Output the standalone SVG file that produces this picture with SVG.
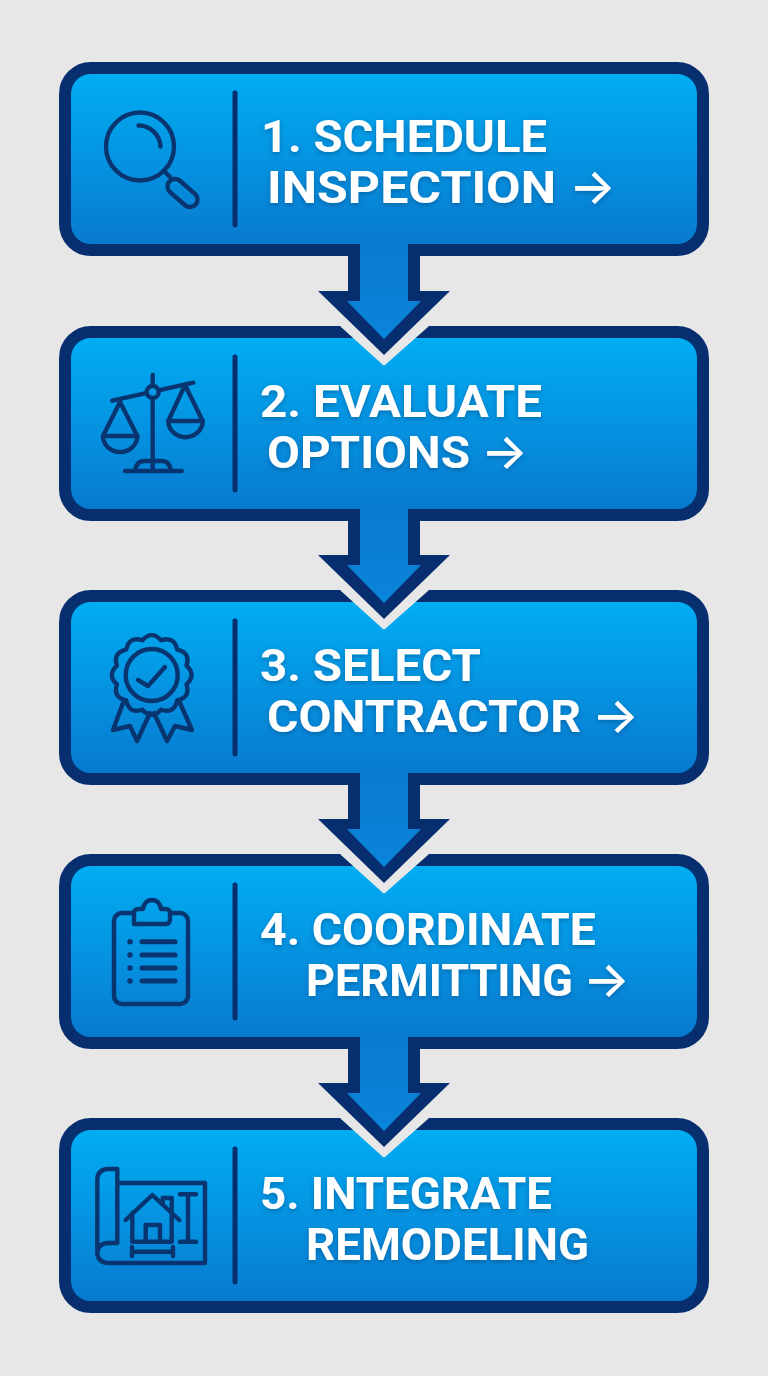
<svg xmlns="http://www.w3.org/2000/svg" width="768" height="1376" viewBox="0 0 768 1376">
<style>
.box{fill:url(#g);stroke:#072f6f;stroke-width:12}
.div{stroke:#072f6f;stroke-width:5;stroke-linecap:round;fill:none}
.ic{fill:none;stroke:#08356f;stroke-width:4.400;stroke-linecap:round;stroke-linejoin:round}
.t{font-family:Roboto,"Liberation Sans",sans-serif;font-weight:700;font-size:44px;fill:#fff;filter:url(#s)}
.a{font-family:Inter,"DejaVu Sans",sans-serif;font-weight:500;font-size:50px;fill:#fff;filter:url(#s)}
</style>
<defs>
<linearGradient id="g" x1="0" y1="0" x2="0" y2="1"><stop offset="0" stop-color="#00aef3"/><stop offset=".5" stop-color="#0594e2"/><stop offset="1" stop-color="#0878cd"/></linearGradient>
<linearGradient id="ag" x1="0" y1="0" x2="0" y2="1"><stop offset="0" stop-color="#0a7bd0"/><stop offset="1" stop-color="#0a84da"/></linearGradient>
<filter id="s" x="-5%" y="-20%" width="110%" height="140%"><feDropShadow dx="0" dy="2" stdDeviation="2.500" flood-color="#04386f" flood-opacity=".45"/></filter>
<g id="arrow">
<path d="M342 326 L384 364 L427 326Z" fill="#e7e7e7" stroke="#e7e7e7" stroke-width="3" stroke-linejoin="round"/>
<path d="M348 256H420V291H450L384 355L318 291H348Z" fill="#072f6f"/>
<path d="M360 244H408V301H421L384 339L347 301H360Z" fill="url(#ag)"/>
</g>
</defs>
<rect width="768" height="1376" fill="#e7e7e7"/>

<g id="node1"><rect class="box" x="65" y="68" width="638" height="182" rx="26"/>
<line class="div" x1="235" y1="93" x2="235" y2="225"/>
<g class="ic"><circle cx="140" cy="146.500" r="34"/><path d="M138.500 125.500A22 22 0 0 1 160.500 146.500"/><path d="M164 171L170 177"/><rect x="165" y="185.500" width="35" height="15" rx="7.500" transform="rotate(41 182.500 193)"/></g>
<text class="t" x="261" y="152" textLength="286" lengthAdjust="spacingAndGlyphs">1. SCHEDULE</text><text class="t" x="267" y="203" textLength="289" lengthAdjust="spacingAndGlyphs">INSPECTION</text><text class="a" x="569" y="204" textLength="47" lengthAdjust="spacingAndGlyphs">→</text></g>

<g id="node2"><rect class="box" x="65" y="332" width="638" height="183" rx="26"/>
<line class="div" x1="235" y1="357" x2="235" y2="490"/>
<g class="ic"><path d="M152.700 375V470M112.300 400.700L193.300 382.700"/><circle cx="152.700" cy="392" r="6" fill="#0a99e4"/><path d="M103 436L120 402L137.300 436M168.300 421L185 385L202.700 421"/><path d="M103 436H137.300A17 16 0 0 1 103 436ZM168.300 421H202.700A17 16 0 0 1 168.300 421Z"/><path d="M125 471H181.700M135 471C136 464 139 461 144 461H162C167 461 170 464 171 471"/></g>
<text class="t" x="260" y="417" textLength="282" lengthAdjust="spacingAndGlyphs">2. EVALUATE</text><text class="t" x="267" y="468" textLength="203" lengthAdjust="spacingAndGlyphs">OPTIONS</text><text class="a" x="481" y="469" textLength="47" lengthAdjust="spacingAndGlyphs">→</text></g>

<g id="node3"><rect class="box" x="65" y="596" width="638" height="183" rx="26"/>
<line class="div" x1="235" y1="621" x2="235" y2="754"/>
<g class="ic"><path transform="translate(151.700 675) rotate(15)" d="M36 0Q43.470 11.650 31.180 18Q31.820 31.820 18 31.180Q11.650 43.470 0 36Q-11.650 43.470 -18 31.180Q-31.820 31.820 -31.180 18Q-43.470 11.650 -36 0Q-43.470 -11.650 -31.180 -18Q-31.820 -31.820 -18 -31.180Q-11.650 -43.470 0 -36Q11.650 -43.470 18 -31.180Q31.820 -31.820 31.180 -18Q43.470 -11.650 36 0Z"/><circle cx="151.700" cy="675" r="26"/><path d="M138 680L148 686L165 667"/><path d="M123 703L113 730L130 726L137 741L150 713M180 703L192 730L175 726L167 741L154 713"/></g>
<text class="t" x="260" y="681" textLength="221" lengthAdjust="spacingAndGlyphs">3. SELECT</text><text class="t" x="267" y="732" textLength="314" lengthAdjust="spacingAndGlyphs">CONTRACTOR</text><text class="a" x="592" y="733" textLength="47" lengthAdjust="spacingAndGlyphs">→</text></g>

<g id="node4"><rect class="box" x="65" y="860" width="638" height="183" rx="26"/>
<line class="div" x1="235" y1="885" x2="235" y2="1018"/>
<g class="ic"><path d="M134 913H122A8 8 0 0 0 114 921V996A8 8 0 0 0 122 1004H180A8 8 0 0 0 188 996V921A8 8 0 0 0 180 913H170"/><path d="M134 924V913A4 4 0 0 1 138 909H143C144 902 148 900 152 900C156 900 160 902 161 909H166A4 4 0 0 1 170 913V920A4 4 0 0 1 166 924Z"/><path stroke-width="5" d="M142 941.700H175M142 955H175M142 968H175M142 981H175"/><path stroke-width="5.500" d="M130 941.700h.01M130 955h.01M130 968h.01M130 981h.01"/></g>
<text class="t" x="260" y="945" textLength="336" lengthAdjust="spacingAndGlyphs">4. COORDINATE</text><text class="t" x="306" y="996" textLength="267" lengthAdjust="spacingAndGlyphs">PERMITTING</text><text class="a" x="583" y="997" textLength="47" lengthAdjust="spacingAndGlyphs">→</text></g>

<g id="node5"><rect class="box" x="65" y="1124" width="638" height="183" rx="26"/>
<line class="div" x1="235" y1="1149" x2="235" y2="1282"/>
<g class="ic"><path d="M117.300 1183H205V1263H108C101 1263 97.300 1258 97.300 1253V1179C97.300 1173 102 1169 108 1169H117.300V1243H108C102 1243 97.300 1247 97.300 1253"/><path d="M125.700 1220L152.300 1195L179.300 1220M132.300 1213V1241.700H171.700V1213M145.700 1241.700V1225H160V1241.700M162.700 1203V1198H171.700V1212"/><path d="M180 1194.300H196M188 1194.300V1241.700M180 1241.700H196M132 1251.700H173M132 1247V1256M173 1247V1256"/></g>
<text class="t" x="260" y="1209" textLength="292" lengthAdjust="spacingAndGlyphs">5. INTEGRATE</text><text class="t" x="306" y="1260" textLength="283" lengthAdjust="spacingAndGlyphs">REMODELING</text></g>

<g id="connectors">
<use href="#arrow"/>
<use href="#arrow" y="264"/>
<use href="#arrow" y="528"/>
<use href="#arrow" y="792"/>
</g>
</svg>
